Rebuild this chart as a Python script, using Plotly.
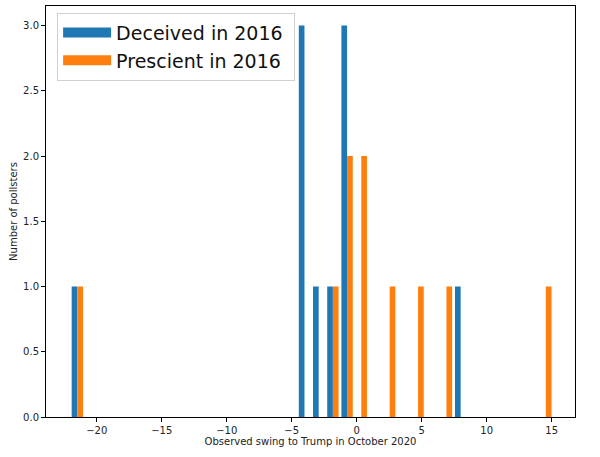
import plotly.graph_objects as go

# Histogram bins (matplotlib-style, 34 bins)
bin_width = 1.092
# bin centers and counts for non-empty bins
deceived_x = [-21.489, -4.017, -2.925, -1.833, -0.741, 7.995]
deceived_n = [1, 3, 1, 1, 3, 1]
prescient_x = [-21.489, -1.833, -0.741, 0.351, 2.535, 4.719, 6.903, 14.547]
prescient_n = [1, 1, 2, 2, 1, 1, 1, 1]

x_ticks = [-20, -15, -10, -5, 0, 5, 10, 15]
y_ticks = [0.0, 0.5, 1.0, 1.5, 2.0, 2.5, 3.0]

BLUE = "#1f77b4"
ORANGE = "#ff7f0e"
bar_w = 0.4 * bin_width

fig = go.Figure()
fig.add_trace(go.Bar(x=deceived_x, y=deceived_n, width=bar_w, offset=-bar_w,
                     marker=dict(color=BLUE, line=dict(width=0)), showlegend=False,
                     name="Deceived in 2016"))
fig.add_trace(go.Bar(x=prescient_x, y=prescient_n, width=bar_w, offset=0,
                     marker=dict(color=ORANGE, line=dict(width=0)), showlegend=False,
                     name="Prescient in 2016"))
# legend entries as thick line patches
fig.add_trace(go.Scatter(x=[None], y=[None], mode="lines", name="Deceived in 2016\u00a0",
                         line=dict(color=BLUE, width=13)))
fig.add_trace(go.Scatter(x=[None], y=[None], mode="lines", name="Prescient in 2016\u00a0",
                         line=dict(color=ORANGE, width=13)))

axis_common = dict(showline=True, linecolor="#000", linewidth=1, mirror=True,
                   ticks="outside", ticklen=4, tickcolor="#000", showgrid=False,
                   zeroline=False, tickfont=dict(size=10, color="#222"))

fig.update_layout(
    width=600, height=457,
    paper_bgcolor="white", plot_bgcolor="white",
    margin=dict(l=46, r=25, t=6, b=40),
    barmode="overlay",
    font=dict(family="DejaVu Sans", color="#222"),
    xaxis=dict(range=[-23.9, 16.79], tickvals=x_ticks,
               title=dict(text="Observed swing to Trump in October 2020", font=dict(size=10), standoff=2),
               **axis_common),
    yaxis=dict(range=[0, 3.15], tickvals=y_ticks, tickformat=".1f",
               title=dict(text="Number of pollsters", font=dict(size=10), standoff=3),
               **axis_common),
    legend=dict(x=0.021, y=0.984, xanchor="left", yanchor="top",
                bgcolor="white", bordercolor="#d0d0d0", borderwidth=1,
                font=dict(size=19, color="#111"), itemwidth=48,
                tracegroupgap=0),
)

fig.write_html("out.html", config={"displayModeBar": False},
               post_script="document.body.style.margin='0px';")
